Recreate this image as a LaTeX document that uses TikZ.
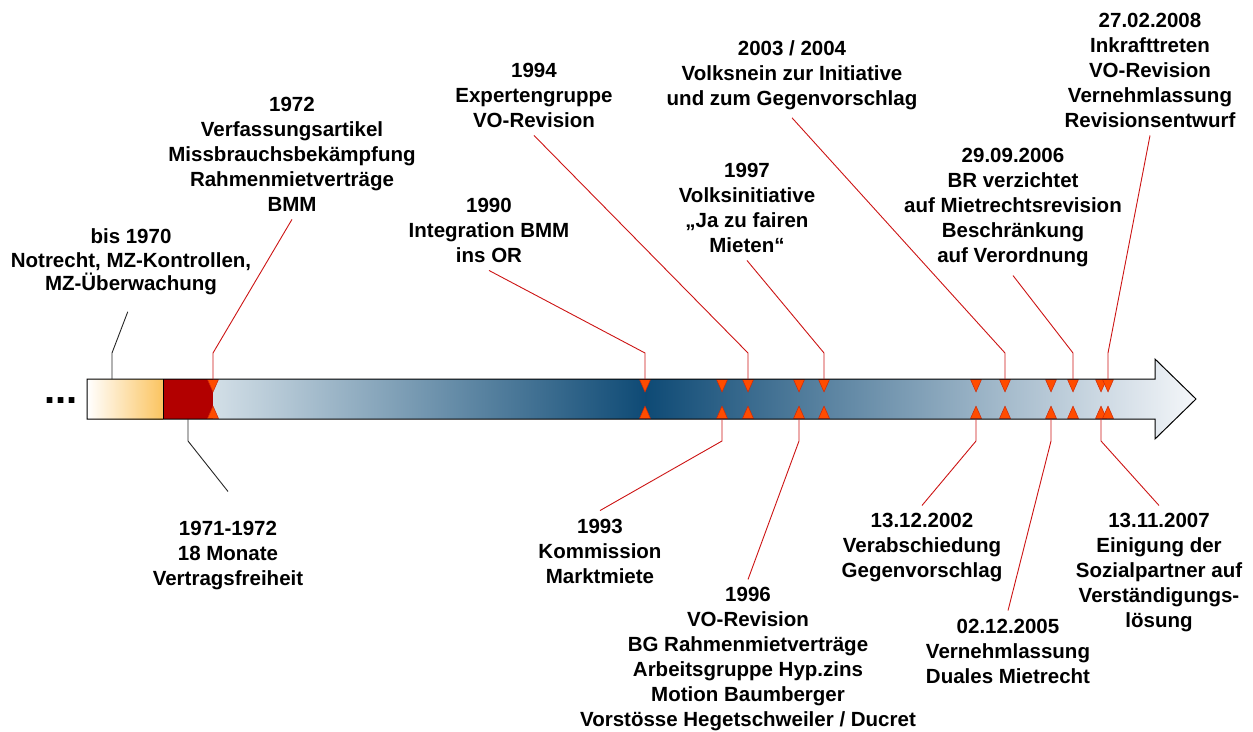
\documentclass[tikz,border=0pt]{standalone}
\usepackage{fontspec}
\setmainfont{Liberation Sans}
\usetikzlibrary{positioning, calc}
\definecolor{leadred}{RGB}{204,20,20}
\definecolor{flagfill}{RGB}{255,76,0}
\definecolor{flagedge}{RGB}{204,40,10}
\definecolor{cream}{RGB}{251,196,96}
\definecolor{darkred}{RGB}{178,0,0}
\definecolor{bluelight}{RGB}{211,223,231}
\definecolor{bluemidl}{RGB}{123,157,181}
\definecolor{bluedark}{RGB}{14,74,117}
\definecolor{bluemidr}{RGB}{125,160,181}
\definecolor{bluewhite}{RGB}{245,247,250}

\begin{document}
\begin{tikzpicture}[
    x=1pt, y=-1pt,
    lbl/.style={align=center, inner xsep=2pt, inner ysep=8pt, font=\fontsize{20.5}{25}\selectfont\bfseries},
    lead/.style={draw=leadred, line width=0.9pt},
    leadk/.style={draw=black!85, line width=0.9pt},
    flag/.style={fill=flagfill, draw=flagedge, line width=0.5pt, line join=round}
]
    \useasboundingbox (0,0) rectangle (1253,731);

    \begin{scope}
        \clip (213,379) -- (1155,379) -- (1155,359) -- (1196,399) -- (1155,439) -- (1155,419) -- (213,419) -- cycle;
        \shade[left color=bluelight, middle color=bluemidl, right color=bluedark] (212,359) rectangle (646,439);
        \shade[left color=bluedark, middle color=bluemidr, right color=bluewhite] (645,359) rectangle (1197,439);
    \end{scope}
    \shade[left color=white, right color=cream] (87,379) rectangle (163,419);
    \fill[darkred] (163,379) rectangle (213,419);

    \foreach \x in {213,645,722,748,799,824,976,1005,1051,1073,1101,1108} {
        \filldraw[flag] (\x-5.5,379.5) -- (\x+5.5,379.5) -- (\x,392) -- cycle;
        \filldraw[flag] (\x-5.5,418.5) -- (\x+5.5,418.5) -- (\x,406) -- cycle;
    }

    \draw[line width=1pt, line join=miter] (87,379) -- (1155,379) -- (1155,359) -- (1196,399) -- (1155,439) -- (1155,419) -- (87,419) -- cycle;
    \draw[line width=1pt] (163,379) -- (163,419);

    \node[font=\fontsize{40}{40}\selectfont\bfseries, anchor=base] (dots) at (61,403) {...};

    \node[lbl, font=\fontsize{20.5}{23.5}\selectfont\bfseries] (notrecht) at (131,262) {bis 1970\\Notrecht, MZ-Kontrollen,\\MZ-Überwachung};
    \node[lbl] (verfassung) at (292,154) {1972\\Verfassungsartikel\\Missbrauchsbekämpfung\\Rahmenmietverträge\\BMM};
    \node[lbl] (integration) at (489,230) {1990\\Integration BMM\\ins OR};
    \node[lbl] (experten) at (534,95) {1994\\Expertengruppe\\VO-Revision};
    \node[lbl] (initiative) at (747,207.5) {1997\\Volksinitiative\\„Ja zu fairen\\Mieten“};
    \node[lbl] (volksnein) at (792,75) {2003 / 2004\\Volksnein zur Initiative\\und zum Gegenvorschlag};
    \node[lbl] (verzicht) at (1013,208) {29.09.2006\\BR verzichtet\\auf Mietrechtsrevision\\Beschränkung\\auf Verordnung};
    \node[lbl] (inkraft) at (1150,70) {27.02.2008\\Inkrafttreten\\VO-Revision\\Vernehmlassung\\Revisionsentwurf};

    \node[lbl] (freiheit) at (228,556) {1971-1972\\18 Monate\\Vertragsfreiheit};
    \node[lbl] (kommission) at (600,551) {1993\\Kommission\\Marktmiete};
    \node[lbl] (revision) at (748,659.5) {1996\\VO-Revision\\BG Rahmenmietverträge\\Arbeitsgruppe Hyp.zins\\Motion Baumberger\\Vorstösse Hegetschweiler / Ducret};
    \node[lbl] (verabschiedung) at (922,548) {13.12.2002\\Verabschiedung\\Gegenvorschlag};
    \node[lbl] (vernehmlassung) at (1008,651) {02.12.2005\\Vernehmlassung\\Duales Mietrecht};
    \node[lbl] (einigung) at (1159,573) {13.11.2007\\Einigung der\\Sozialpartner auf\\Verständigungs-\\lösung};

    \coordinate (p-notrecht) at (112,379);
    \coordinate (p-verfassung) at (213,379);
    \coordinate (p-integration) at (645,379);
    \coordinate (p-experten) at (748,379);
    \coordinate (p-initiative) at (824,379);
    \coordinate (p-volksnein) at (1005,379);
    \coordinate (p-verzicht) at (1073,379);
    \coordinate (p-inkraft) at (1108,379);
    \coordinate (p-freiheit) at (188,419);
    \coordinate (p-kommission) at (722,419);
    \coordinate (p-revision) at (799,419);
    \coordinate (p-verabschiedung) at (976,419);
    \coordinate (p-vernehmlassung) at (1051,419);
    \coordinate (p-einigung) at (1101,419);

    \draw[leadk, shorten >=9pt] (p-notrecht) -- ++(0,-26) -- (notrecht.south);
    \foreach \n in {verfassung, integration, experten, initiative, volksnein, verzicht, inkraft}
        \draw[lead] (p-\n) -- ++(0,-26) -- (\n.south);
    \draw[leadk] (p-freiheit) -- ++(0,22) -- ([yshift=22pt]freiheit.north);
    \foreach \n in {kommission, revision, verabschiedung, vernehmlassung, einigung}
        \draw[lead] (p-\n) -- ++(0,22) -- (\n.north);
\end{tikzpicture}
\end{document}
